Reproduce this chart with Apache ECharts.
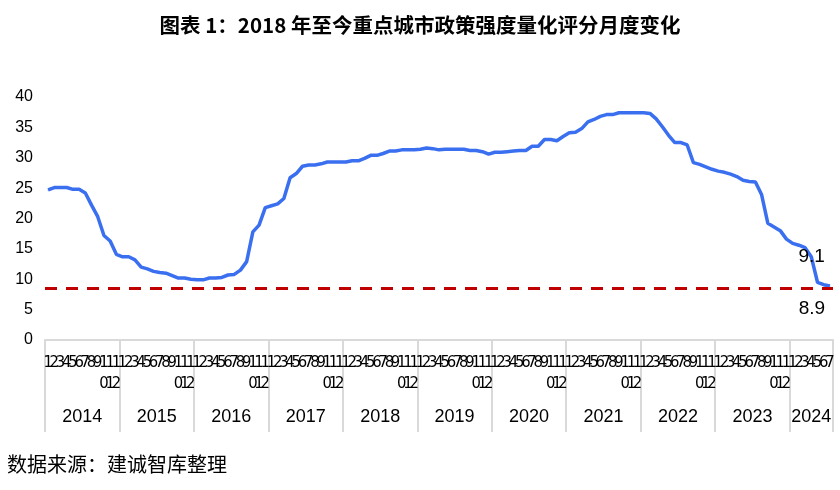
<!DOCTYPE html>
<html>
<head>
<meta charset="utf-8">
<script src="https://cdn.jsdelivr.net/npm/echarts@6/dist/echarts.min.js"></script>
<style>html,body{margin:0;padding:0;background:#fff;}#chart{width:840px;height:490px;}</style>
</head>
<body>
<div id="chart"></div>
<script>
// ---- data ----
var titleText = '图表 1：2018 年至今重点城市政策强度量化评分月度变化';
var sourceText = '数据来源：建诚智库整理';
var years = ['2014','2015','2016','2017','2018','2019','2020','2021','2022','2023','2024'];
var monthLabels = ['1','2','3','4','5','6','7','8','9','10','11','12'];
var yTicks = [0, 5, 10, 15, 20, 25, 30, 35, 40];

var scores2014 = [24.7, 25.1, 25.1, 25.1, 24.8, 24.8, 24.2, 22.2, 20.3, 17.2, 16.3, 14.1];
var scores2015 = [13.7, 13.7, 13.2, 12.0, 11.7, 11.3, 11.1, 11.0, 10.6, 10.2, 10.2, 10.0];
var scores2016 = [9.9, 9.9, 10.2, 10.2, 10.3, 10.7, 10.8, 11.5, 12.9, 17.8, 18.9, 21.8];
var scores2017 = [22.1, 22.4, 23.3, 26.7, 27.4, 28.6, 28.8, 28.8, 29.0, 29.3, 29.3, 29.3];
var scores2018 = [29.3, 29.5, 29.5, 29.9, 30.4, 30.4, 30.7, 31.1, 31.1, 31.3, 31.3, 31.3];
var scores2019 = [31.4, 31.6, 31.5, 31.3, 31.4, 31.4, 31.4, 31.4, 31.2, 31.2, 31.0, 30.6];
var scores2020 = [30.9, 30.9, 31.0, 31.1, 31.2, 31.2, 31.9, 31.9, 33.0, 33.0, 32.8, 33.5];
var scores2021 = [34.1, 34.2, 34.8, 35.9, 36.3, 36.8, 37.1, 37.1, 37.4, 37.4, 37.4, 37.4];
var scores2022 = [37.4, 37.3, 36.4, 35.1, 33.7, 32.5, 32.5, 32.1, 29.2, 28.9, 28.5, 28.1];
var scores2023 = [27.8, 27.6, 27.3, 26.9, 26.3, 26.1, 26.0, 23.9, 19.2, 18.6, 18.0, 16.6];
var scores2024 = [15.9, 15.6, 15.2, 13.7, 9.5, 9.1, 8.9];
var dashedLevel = 8.5;
var labelledPoints = ['2024-6', '2024-7'];

// ---- build category list from the arrays ----
var yearSeries = [scores2014, scores2015, scores2016, scores2017, scores2018, scores2019,
                  scores2020, scores2021, scores2022, scores2023, scores2024];
var categories = [], values = [], yearLabelAt = {};
yearSeries.forEach(function (arr, yi) {
  var start = categories.length;
  arr.forEach(function (v, mi) {
    categories.push(years[yi] + '-' + monthLabels[mi]);
    values.push(v);
  });
  var n = arr.length;
  yearLabelAt[start + Math.floor(n / 2)] = { year: years[yi], even: n % 2 === 0 };
});

var lineData = values.map(function (v, i) {
  var c = categories[i];
  if (c === labelledPoints[0]) {
    return { value: v, label: { show: true, position: 'top', offset: [-12, -13] } };
  }
  if (c === labelledPoints[1]) {
    return { value: v, label: { show: true, position: 'bottom', offset: [-18, 8] } };
  }
  return v;
});

var chart = echarts.init(document.getElementById('chart'), null, { renderer: 'canvas' });
chart.setOption({
  animation: false,
  backgroundColor: '#fff',
  title: [{
    text: titleText,
    left: 'center',
    top: 10,
    textStyle: { fontSize: 20.5, fontWeight: 'bold', color: '#000', fontFamily: '"Noto Sans CJK SC", sans-serif' }
  }, {
    text: sourceText,
    left: 2,
    top: 449,
    textStyle: { fontSize: 20, fontWeight: 'normal', color: '#000', fontFamily: '"Noto Sans CJK SC", sans-serif' }
  }],
  grid: { left: 45, right: 7, top: 97, bottom: 150, containLabel: false },
  xAxis: [{
    type: 'category',
    data: categories,
    boundaryGap: true,
    axisLine: { show: true, lineStyle: { color: '#d9d9d9', width: 2 } },
    axisTick: {
      show: true,
      interval: function (i) { return i % 12 === 0; },
      length: 92,
      lineStyle: { color: '#d9d9d9', width: 2 }
    },
    axisLabel: {
      interval: 0,
      margin: 12,
      color: '#000',
      fontSize: 16.5,
      lineHeight: 21,
      fontFamily: '"Liberation Sans Narrow", "Arial Narrow", "DejaVu Sans Condensed", sans-serif',
      formatter: function (val) {
        var m = val.split('-')[1];
        return m.split('').join('\n');
      }
    }
  }, {
    type: 'category',
    data: categories,
    boundaryGap: true,
    position: 'bottom',
    axisLine: { show: false },
    axisTick: { show: false },
    axisLabel: {
      interval: function (i) { return !!yearLabelAt[i]; },
      margin: 67,
      color: '#000',
      fontSize: 18,
      lineHeight: 20,
      fontFamily: '"Liberation Sans", Arial, sans-serif',
      formatter: function (val, i) {
        var info = yearLabelAt[i];
        if (!info) return '';
        return info.even ? '{e|' + info.year + '}' : '{o|' + info.year + '}';
      },
      rich: {
        e: { fontSize: 18, padding: [0, 6, 0, 0], color: '#000', fontFamily: '"Liberation Sans", Arial, sans-serif' },
        o: { fontSize: 18, color: '#000', fontFamily: '"Liberation Sans", Arial, sans-serif' }
      }
    }
  }],
  yAxis: {
    type: 'value',
    min: yTicks[0],
    max: yTicks[yTicks.length - 1],
    interval: yTicks[1] - yTicks[0],
    axisLine: { show: false },
    axisTick: { show: false },
    splitLine: { show: false },
    axisLabel: { color: '#000', fontSize: 16, margin: 12, fontFamily: '"Liberation Sans", Arial, sans-serif' }
  },
  series: [{
    type: 'line',
    xAxisIndex: 0,
    data: lineData,
    showSymbol: true,
    showAllSymbol: true,
    symbol: 'circle',
    symbolSize: 1,
    itemStyle: { color: '#3a6ff0' },
    lineStyle: { color: '#3a6ff0', width: 3.5 },
    label: { show: false, color: '#000', fontSize: 19, fontFamily: '"Liberation Sans", Arial, sans-serif' },
    markLine: {
      silent: true,
      symbol: 'none',
      label: { show: false },
      lineStyle: { color: '#c00000', width: 3, type: [12, 9] },
      data: [{ yAxis: dashedLevel }]
    },
    z: 3
  }]
});
</script>
</body>
</html>
